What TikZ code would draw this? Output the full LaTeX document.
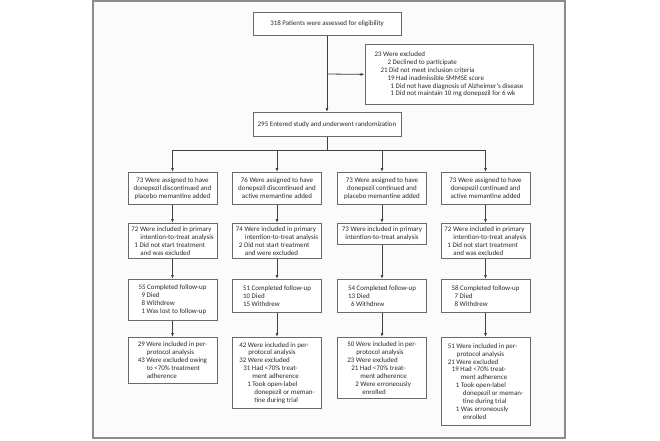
\documentclass[tikz,border=0pt]{standalone}
\usepackage{fontspec}
\setmainfont{Carlito}
\usetikzlibrary{arrows.meta}
\definecolor{boxgray}{HTML}{6A6A6A}
\definecolor{linegray}{HTML}{404040}
\definecolor{txt}{HTML}{2A2A2A}
\definecolor{framegray}{HTML}{8C8C8C}
\definecolor{bg}{HTML}{FBFBFB}
\newcommand\ind[1]{\hspace*{#1pt}}
\begin{document}
\begin{tikzpicture}[x=1pt,y=-1pt,
  flowbox/.style={draw=boxgray, line width=0.8pt, fill=white, anchor=north, inner sep=0pt,
    align=left, text=txt, font=\fontsize{6.95}{7.9}\selectfont, minimum width=89pt},
  cbox/.style={flowbox, align=center},
  arr/.style={draw=linegray, line width=0.8pt, -{Latex[length=4pt,width=3pt]}},
  ln/.style={draw=linegray, line width=0.8pt}]
\useasboundingbox (0,0) rectangle (660,440);
\fill[white] (0,0) rectangle (660,440);
\draw[framegray, line width=1.2pt, fill=bg] (93,1) rectangle (565,438);

\node[cbox, minimum width=148pt, minimum height=23pt] (top) at (327,12) {318 Patients were assessed for eligibility};
\node[flowbox, minimum width=168pt, minimum height=60pt] (excl) at (449,44) {23 Were excluded\\
\ind{13}2 Declined to participate\\
\ind{6}21 Did not meet inclusion criteria\\
\ind{13}19 Had inadmissible SMMSE score\\
\ind{16}1 Did not have diagnosis of Alzheimer's disease\\
\ind{16}1 Did not maintain 10 mg donepezil for 6 wk};
\node[cbox, minimum width=148pt, minimum height=24pt] (rand) at (327,112) {295 Entered study and underwent randomization};

% row 1
\node[cbox, minimum height=32pt] (a1) at (172.5,172) {73 Were assigned to have\\donepezil discontinued and\\placebo memantine added};
\node[cbox, minimum height=32pt] (a2) at (277,172) {76 Were assigned to have\\donepezil discontinued and\\active memantine added};
\node[cbox, minimum height=32pt] (a3) at (382,172) {73 Were assigned to have\\donepezil continued and\\placebo memantine added};
\node[cbox, minimum height=32pt] (a4) at (485.5,172) {73 Were assigned to have\\donepezil continued and\\active memantine added};

% row 2
\node[flowbox, minimum height=35pt] (b1) at (172.5,223) {72 Were included in primary\\\ind{9}intention-to-treat analysis\\\ind{3}1 Did not start treatment\\\ind{9}and was excluded};
\node[flowbox, minimum height=35pt] (b2) at (277,223) {74 Were included in primary\\\ind{9}intention-to-treat analysis\\\ind{3}2 Did not start treatment\\\ind{9}and were excluded};
\node[cbox, minimum height=21pt] (b3) at (382,223) {73 Were included in primary\\intention-to-treat analysis};
\node[flowbox, minimum height=35pt] (b4) at (485.5,223) {72 Were included in primary\\\ind{9}intention-to-treat analysis\\\ind{3}1 Did not start treatment\\\ind{9}and was excluded};

% row 3
\node[flowbox, minimum height=41pt] (c1) at (172.5,279) {55 Completed follow-up\\\ind{3}9 Died\\\ind{3}8 Withdrew\\\ind{3}1 Was lost to follow-up};
\node[flowbox, minimum height=33pt] (c2) at (277,279) {51 Completed follow-up\\10 Died\\15 Withdrew};
\node[flowbox, minimum height=33pt] (c3) at (382,279) {54 Completed follow-up\\13 Died\\\ind{3}6 Withdrew};
\node[flowbox, minimum height=33pt] (c4) at (485.5,279) {58 Completed follow-up\\\ind{3}7 Died\\\ind{3}8 Withdrew};

% row 4
\node[flowbox, minimum height=46pt] (d1) at (172.5,337) {29 Were included in per-\\\ind{9}protocol analysis\\43 Were excluded owing\\\ind{9}to {<}70\% treatment\\\ind{9}adherence};
\node[flowbox, minimum height=71pt] (d2) at (277,337) {42 Were included in per-\\\ind{9}protocol analysis\\32 Were excluded\\\ind{4}31 Had {<}70\% treat-\\\ind{13}ment adherence\\\ind{8}1 Took open-label\\\ind{15}donepezil or meman-\\\ind{15}tine during trial};
\node[flowbox, minimum height=61pt] (d3) at (382,337) {50 Were included in per-\\\ind{9}protocol analysis\\23 Were excluded\\\ind{4}21 Had {<}70\% treat-\\\ind{13}ment adherence\\\ind{8}2 Were erroneously\\\ind{15}enrolled};
\node[flowbox, minimum height=88pt] (d4) at (485.5,337) {51 Were included in per-\\\ind{9}protocol analysis\\21 Were excluded\\\ind{4}19 Had {<}70\% treat-\\\ind{13}ment adherence\\\ind{8}1 Took open-label\\\ind{15}donepezil or meman-\\\ind{15}tine during trial\\\ind{8}1 Was erroneously\\\ind{15}enrolled};

% connectors
\draw[arr] (top.south) -- (rand.north);
\coordinate (j) at (327,74);
\draw[arr] (j) -- (excl.west);
\foreach \k in {1,2,3,4}{
  \draw[arr] (rand.south) -- ++(0,14) -| (a\k.north);
  \draw[arr] (a\k.south) -- (b\k.north);
  \draw[arr] (b\k.south) -- (c\k.north);
  \draw[arr] (c\k.south) -- (d\k.north);
}
\end{tikzpicture}
\end{document}
